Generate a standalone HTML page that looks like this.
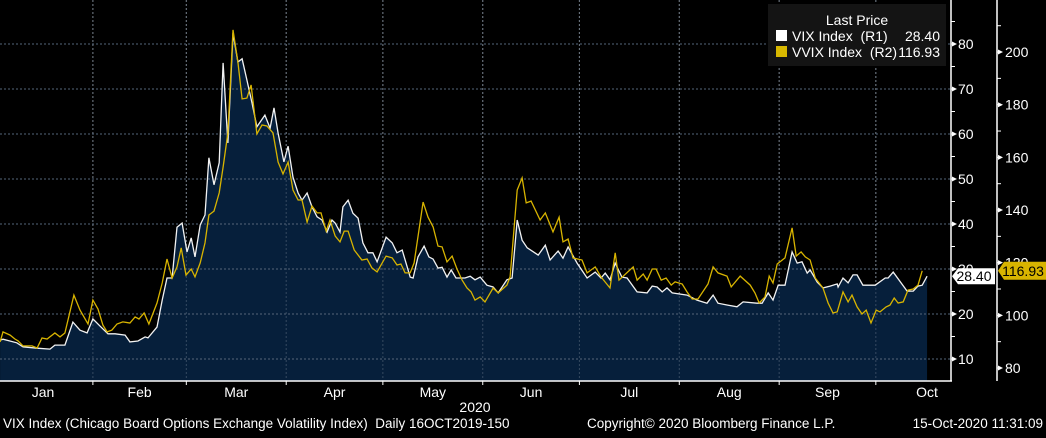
<!DOCTYPE html>
<html><head><meta charset="utf-8"><style>
body{margin:0;background:#000;width:1046px;height:433px;overflow:hidden;font-family:"Liberation Sans",sans-serif;}
svg text{font-family:"Liberation Sans",sans-serif;}
</style></head><body>
<svg id="chart" width="1046" height="433" viewBox="0 0 1046 433" xmlns="http://www.w3.org/2000/svg">
<rect width="1046" height="433" fill="#000"/>
<g id="grid"></g>
<g id="series"></g>
<g id="axes"></g>
<g>
<rect x="768" y="4" width="178" height="62" fill="#141414"/>
<text x="857" y="25" fill="#fff" font-size="14" text-anchor="middle">Last Price</text>
<rect x="776" y="30" width="11" height="11" fill="#fff"/>
<text x="792" y="41" fill="#fff" font-size="14" xml:space="preserve">VIX Index  (R1)</text>
<text x="940" y="41" fill="#fff" font-size="14" text-anchor="end">28.40</text>
<rect x="776" y="46" width="11" height="11" fill="#d8b800"/>
<text x="792" y="57" fill="#fff" font-size="14" xml:space="preserve">VVIX Index  (R2)</text>
<text x="940" y="57" fill="#fff" font-size="14" text-anchor="end">116.93</text>
</g>
<text x="475" y="412" fill="#fff" font-size="14" text-anchor="middle">2020</text>
<text x="3" y="428" fill="#fff" font-size="13.5" xml:space="preserve">VIX Index (Chicago Board Options Exchange Volatility Index)  Daily 16OCT2019-150</text>
<text x="587" y="428" fill="#fff" font-size="13.5">Copyright© 2020 Bloomberg Finance L.P.</text>
<text x="1043" y="428" fill="#fff" font-size="13.5" text-anchor="end">15-Oct-2020 11:31:09</text>
</svg>
<script>
const vixDay=[2.2,3.1,7.4,9.3,13.7,17.7,19.2,22.3,24.8,27.0,29.2,31.0,33.2,35.7,37.9,41.0,42.5,45.0,47.2,48.1,50.9,52.5,54.0,55.6,57.1,58.7,60.2,61.5,62.7,64.3,65.8,67.0,68.6,70.2,71.4,72.9,74.5,76.0,77.3,78.8,80.4,81.9,84.4,86.0,87.2,88.5,90.3,91.6,93.1,94.7,95.9,97.5,99.0,100.6,102.1,103.7,105.2,106.2,107.7,108.6,110.2,111.7,113.3,114.8,116.4,117.9,119.2,122.0,123.9,125.4,127.0,129.5,130.4,131.9,133.8,135.3,136.6,138.1,139.4,140.9,142.2,143.7,146.5,148.1,149.6,151.2,153.3,155.2,156.8,159.5,161.1,162.7,164.2,165.8,169.2,171.4,172.9,175.4,176.9,178.5,181.3,184.4,186.9,188.7,190.0,191.5,193.1,195.2,196.8,199.9,203.0,204.6,206.1,207.7,209.2,210.8,215.4,218.5,221.6,223.5,225.0,227.8,230.9,232.8,237.1,238.7,240.6,242.1,243.7,245.8,248.0,249.6,251.1,252.7,253.6,255.8,257.6,259.8,262.0,262.3,263.8,265.4,266.9,268.2,270.0,273.8,276.9,277.8,279.4,283.7,285.6,287.1,288.4,289.9];
const vixVal=[14.2,14.4,13.6,12.7,12.4,12.2,13.1,13.1,18.2,16.4,15.8,18.9,17.3,15.6,15.6,15.3,13.8,14.0,14.9,14.7,17.1,23.1,28.0,28.0,39.3,40.2,33.8,36.9,32.7,39.8,42.0,54.7,48.7,53.6,75.8,58.0,82.4,76.0,76.7,72.0,66.9,61.6,64.2,61.3,65.8,60.2,53.8,57.3,50.4,46.9,45.3,46.9,43.8,41.6,40.9,38.2,40.9,40.2,38.2,43.8,45.3,42.4,41.3,35.8,33.6,33.6,31.6,37.1,35.8,33.6,34.2,28.2,28.0,32.7,35.1,32.7,32.2,30.2,30.4,28.2,29.8,28.0,28.0,28.4,27.6,28.2,26.4,26.0,24.7,27.6,28.0,40.9,36.4,34.7,33.1,35.3,32.0,34.0,32.4,34.9,31.3,28.0,29.3,28.0,29.1,27.6,31.3,28.2,28.0,24.9,24.7,26.2,26.0,24.9,25.8,24.7,24.2,23.1,22.4,24.2,22.4,22.0,21.6,22.7,22.4,22.4,24.7,23.1,26.4,26.4,33.8,31.3,31.6,29.1,29.8,27.1,25.8,26.2,26.7,26.0,28.0,26.9,28.7,28.7,26.4,26.4,28.0,28.0,29.3,25.1,25.1,26.2,26.4,28.4];
const vvixDay=[2.2,3.1,5.3,6.8,7.8,9.3,12.1,13.7,15.2,16.8,19.2,20.8,22.3,25.1,27.0,29.5,31.0,32.6,34.1,35.4,36.9,38.5,40.3,42.5,44.1,45.3,46.9,48.4,50.9,52.5,54.0,55.6,57.1,58.4,59.9,61.5,62.7,64.3,65.8,67.0,68.6,70.2,71.4,72.9,74.5,76.0,77.3,78.8,80.1,81.9,83.5,85.0,86.9,88.5,90.0,91.6,93.1,94.7,95.9,97.5,99.0,100.6,101.8,103.4,104.6,106.2,107.7,109.0,110.2,112.1,114.5,116.1,117.6,119.2,122.0,123.9,125.4,126.6,127.9,129.5,130.7,133.5,135.0,136.6,138.1,139.4,140.9,142.5,144.0,145.6,147.1,148.4,149.6,151.2,152.7,155.2,156.8,159.5,160.5,162.7,164.2,165.5,167.0,169.8,171.4,173.8,175.7,176.9,178.5,180.0,182.8,184.4,186.9,188.7,191.5,193.1,194.3,198.7,199.9,201.8,203.0,204.6,205.8,207.4,208.9,210.5,211.7,213.9,215.4,217.0,218.8,221.9,223.5,225.0,227.8,229.1,231.9,235.0,236.5,237.8,239.6,240.9,242.1,243.4,245.8,248.0,249.3,250.8,252.1,253.6,255.2,257.6,259.2,260.7,262.0,263.8,265.4,266.6,268.2,269.7,271.0,272.5,274.1,275.3,277.2,278.4,279.7,280.9,282.5,284.0,285.6,287.1,288.4];
const vvixVal=[89.9,93.7,92.5,91.0,90.3,88.4,88.4,87.6,91.4,91.0,93.3,91.8,93.3,107.7,102.0,96.7,105.8,102.4,96.3,93.7,94.4,96.7,97.5,97.1,99.4,98.6,100.9,96.7,104.7,112.3,121.4,114.2,118.4,125.6,115.3,117.6,114.6,119.9,127.5,138.1,139.6,146.5,156.3,169.3,208.4,196.2,182.2,182.5,187.5,168.9,172.3,171.9,169.3,158.2,153.7,158.2,147.6,143.8,143.8,135.4,141.5,138.9,138.9,132.0,136.2,130.1,127.9,132.0,132.0,124.8,121.0,121.4,118.0,116.5,122.5,121.8,119.1,119.5,116.1,116.1,119.9,143.0,137.3,133.6,126.3,126.0,120.3,122.5,117.6,113.4,110.4,108.9,105.8,107.0,105.1,110.4,108.5,111.5,114.6,147.6,152.2,142.7,143.4,136.2,138.9,131.7,137.3,127.9,129.0,121.8,121.0,116.1,118.4,114.6,110.4,123.7,113.4,118.4,113.4,115.7,113.4,117.6,117.6,113.4,114.2,111.5,112.7,111.9,108.9,106.2,106.2,111.9,118.4,116.1,114.9,110.8,114.9,111.5,108.5,104.7,107.0,114.9,112.3,119.5,121.8,133.2,122.5,124.1,122.2,121.0,114.2,110.4,104.7,100.9,101.3,108.9,105.1,107.7,103.2,100.5,102.0,97.1,102.0,101.3,103.2,103.9,106.6,104.7,105.1,109.6,110.0,111.5,116.93];
const monthLabels=["Jan","Feb","Mar","Apr","May","Jun","Jul","Aug","Sep","Oct"];
const monthStartDay=[0,31,60,91,121,152,182,213,244,274];
const leftTicks=[10,20,30,40,50,60,70,80];
const rightTicks=[80,100,120,140,160,180,200];
const lastVix=28.40, lastVvix=116.93;

const NS="http://www.w3.org/2000/svg";
const X0=-7, PXD=3.222, BOTTOM=381, PLOTR=951, AX2=997;
function xS(d){return X0+d*PXD;}
function yL(v){return 359-(v-10)*4.5;}
function yR(w){return 368-(w-80)*2.633;}
function mk(tag,attrs,parent){const e=document.createElementNS(NS,tag);for(const k in attrs)e.setAttribute(k,attrs[k]);parent.appendChild(e);return e;}
const grid=document.getElementById('grid'),series=document.getElementById('series'),axes=document.getElementById('axes');

leftTicks.forEach(t=>{
  const l=mk('line',{x1:0,x2:PLOTR,y1:yL(t),y2:yL(t),stroke:'#8a8a8a','stroke-width':1,'stroke-dasharray':'2,2'},grid);
  
  
});
monthStartDay.slice(1).forEach((d,i)=>{
  const l=mk('line',{x1:xS(d),x2:xS(d),y1:0,y2:BOTTOM,stroke:'#8a8a8a','stroke-width':1,'stroke-dasharray':'2,2'},grid);
  
  
});

let pts=vixDay.map((d,i)=>xS(d).toFixed(1)+','+yL(vixVal[i]).toFixed(1));
const area=mk('polygon',{points:xS(vixDay[0])+','+BOTTOM+' '+pts.join(' ')+' '+xS(vixDay[vixDay.length-1])+','+BOTTOM,fill:'#061f3b'},series);


leftTicks.forEach(t=>{mk('line',{x1:0,x2:PLOTR,y1:yL(t),y2:yL(t),stroke:'#55667a','stroke-width':1,'stroke-dasharray':'2,2'},series);});
monthStartDay.slice(1).forEach(d=>{mk('line',{x1:xS(d),x2:xS(d),y1:0,y2:BOTTOM,stroke:'#55667a','stroke-width':1,'stroke-dasharray':'2,2','opacity':0.6},series);});
const vl=mk('polyline',{points:pts.join(' '),fill:'none',stroke:'#f2f2f2','stroke-width':1.3},series);


const pts2=vvixDay.map((d,i)=>xS(d).toFixed(1)+','+yR(vvixVal[i]).toFixed(1));
const wl=mk('polyline',{points:pts2.join(' '),fill:'none',stroke:'#d8b400','stroke-width':1.3},series);



mk('line',{x1:0,x2:PLOTR+1,y1:BOTTOM,y2:BOTTOM,stroke:'#fff','stroke-width':1.5},axes);
mk('line',{x1:PLOTR,x2:PLOTR,y1:0,y2:BOTTOM,stroke:'#fff','stroke-width':1.5},axes);
mk('line',{x1:AX2,x2:AX2,y1:0,y2:BOTTOM,stroke:'#fff','stroke-width':1.5},axes);
for(let v=10;v<=90;v+=5){const y=yL(v);if(y<0)continue;mk('line',{x1:PLOTR,x2:PLOTR+4,y1:y,y2:y,stroke:'#fff'},axes);}
for(let w=80;w<=220;w+=10){const y=yR(w);if(y<0)continue;mk('line',{x1:AX2,x2:AX2+4,y1:y,y2:y,stroke:'#fff'},axes);}
leftTicks.forEach(t=>{
  const y=yL(t);
  mk('polygon',{points:(PLOTR+1)+','+(y-2.5)+' '+(PLOTR+6)+','+y+' '+(PLOTR+1)+','+(y+2.5),fill:'#fff'},axes);
  const tx=mk('text',{x:PLOTR+7,y:y+5,fill:'#fff','font-size':14},axes);tx.textContent=t;
  
  
});
rightTicks.forEach(t=>{
  const y=yR(t);
  mk('polygon',{points:(AX2+1)+','+(y-2.5)+' '+(AX2+6)+','+y+' '+(AX2+1)+','+(y+2.5),fill:'#fff'},axes);
  const tx=mk('text',{x:AX2+8,y:y+5,fill:'#fff','font-size':14},axes);tx.textContent=t;
  
  
});
monthStartDay.forEach((d,i)=>{
  if(i>0)mk('line',{x1:xS(d),x2:xS(d),y1:BOTTOM,y2:BOTTOM+4,stroke:'#fff'},axes);
  const next=i<monthStartDay.length-1?monthStartDay[i+1]:d+31;
  let cx=(Math.max(xS(d),-5)+xS(next))/2; if(i===0)cx=43; if(i===monthLabels.length-1)cx=927;
  const tx=mk('text',{x:cx,y:397,fill:'#fff','font-size':14,'text-anchor':'middle'},axes);tx.textContent=monthLabels[i];
  
  
});
let y1=yL(lastVix);
const tg1=mk('polygon',{points:(PLOTR+1)+','+y1+' '+(PLOTR+7)+','+(y1-8)+' 995,'+(y1-8)+' 995,'+(y1+8)+' '+(PLOTR+7)+','+(y1+8),fill:'#fff'},axes);


const t1=mk('text',{x:974,y:y1+5,fill:'#000','font-size':14,'text-anchor':'middle'},axes);t1.textContent=lastVix.toFixed(2);
let y2=yR(lastVvix);
const tg2=mk('polygon',{points:(AX2+1)+','+y2+' '+(AX2+7)+','+(y2-9)+' 1046,'+(y2-9)+' 1046,'+(y2+9)+' '+(AX2+7)+','+(y2+9),fill:'#d8b400'},axes);


const t2=mk('text',{x:1023,y:y2+5,fill:'#000','font-size':14,'text-anchor':'middle'},axes);t2.textContent=lastVvix.toFixed(2);
</script>
</body></html>
